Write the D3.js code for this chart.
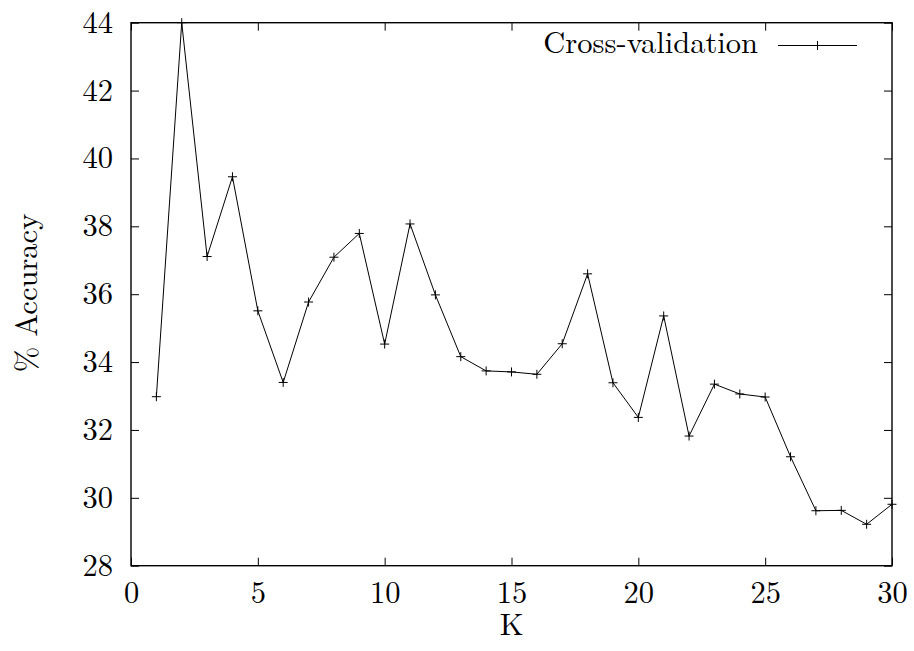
<!DOCTYPE html>
<html>
<head>
<meta charset="utf-8">
<script src="https://cdn.jsdelivr.net/npm/d3@7"></script>
<style>
  html,body{margin:0;padding:0;background:#fff;}
</style>
</head>
<body>
<svg id="chart"></svg>
<script>
'use strict';
// cross-validation accuracy vs K
const ks=[1,2,3,4,5,6,7,8,9,10,11,12,13,14,15,16,17,18,19,20,21,22,23,24,25,26,27,28,29,30];
const accuracy=[32.98,44.0,37.11,39.46,35.51,33.40,35.77,37.09,37.79,34.53,38.07,35.98,34.16,33.74,33.71,
  33.64,34.54,36.60,33.39,32.37,35.36,31.82,33.35,33.06,32.97,31.21,29.62,29.63,29.22,29.81];
const xTicks=[0,5,10,15,20,25,30];
const yTicks=[28,30,32,34,36,38,40,42,44];
const seriesName='Cross-validation';

const FONT='"Latin Modern Roman"';
const FS='30.5px';
const W=914, H=651;
const m={top:22.7,right:22,bottom:85.3,left:131}, w=W-m.left-m.right, h=H-m.top-m.bottom;
const svg=d3.select('#chart').attr('width',W).attr('height',H);
const g=svg.append('g').attr('transform',`translate(${m.left},${m.top})`);

const x=d3.scaleLinear().domain([0,30]).range([0,w]);
const y=d3.scaleLinear().domain([28,44]).range([h,0]);
const TICK=8;

const txt=sel=>sel.style('font-family',FONT).style('font-size',FS).style('fill','#000');

// ticks pointing inward on all four sides (gnuplot mirror style)
function styleAxis(sel){
  sel.select('.domain').remove();
  sel.selectAll('.tick line').attr('stroke','#000').attr('stroke-width',1);
}
const bottom=g.append('g').attr('transform',`translate(0,${h})`)
  .call(d3.axisBottom(x).tickValues(xTicks).tickSizeInner(-TICK).tickSizeOuter(0).tickFormat(d3.format('d')));
styleAxis(bottom);
bottom.selectAll('text').attr('y',37.5).attr('dy',0).call(txt);

g.append('g').call(d3.axisTop(x).tickValues(xTicks).tickSizeInner(-TICK).tickSizeOuter(0).tickFormat('')).call(styleAxis);

const left=g.append('g')
  .call(d3.axisLeft(y).tickValues(yTicks).tickSizeInner(-TICK).tickSizeOuter(0).tickFormat(d3.format('d')));
styleAxis(left);
left.selectAll('text').attr('x',-18).attr('dy','0.31em').call(txt);

g.append('g').attr('transform',`translate(${w},0)`)
  .call(d3.axisRight(y).tickValues(yTicks).tickSizeInner(-TICK).tickSizeOuter(0).tickFormat('')).call(styleAxis);

// frame
g.append('rect').attr('width',w).attr('height',h).attr('fill','none').attr('stroke','#000').attr('stroke-width',1.4);

// axis titles
g.append('text').attr('x',w/2).attr('y',h+69.6).attr('text-anchor','middle').call(txt).text('K');
svg.append('text').attr('transform','translate(37,293) rotate(-90)')
  .attr('text-anchor','middle').call(txt).text('% Accuracy');

// data line + markers
const data=ks.map((k,i)=>({k,v:accuracy[i]}));
g.append('path').datum(data)
  .attr('fill','none').attr('stroke','#000').attr('stroke-width',1)
  .attr('d',d3.line().x(d=>x(d.k)).y(d=>y(d.v)));

const plus=(sel,s)=>sel.append('path')
  .attr('d',`M${-s},0H${s}M0,${-s}V${s}`).attr('stroke','#000').attr('stroke-width',1).attr('fill','none');
g.selectAll('.pt').data(data).join('g').attr('class','pt')
  .attr('transform',d=>`translate(${x(d.k)},${y(d.v)})`)
  .each(function(){plus(d3.select(this),4.5);});

// legend (top right, inside frame)
const lg=svg.append('g');
lg.append('text').attr('x',758).attr('y',53).attr('text-anchor','end').call(txt).text(seriesName);
lg.append('line').attr('x1',778).attr('x2',857).attr('y1',45.5).attr('y2',45.5).attr('stroke','#000').attr('stroke-width',1);
plus(lg.append('g').attr('transform','translate(817.5,45.5)'),4.5);
</script>
</body>
</html>
